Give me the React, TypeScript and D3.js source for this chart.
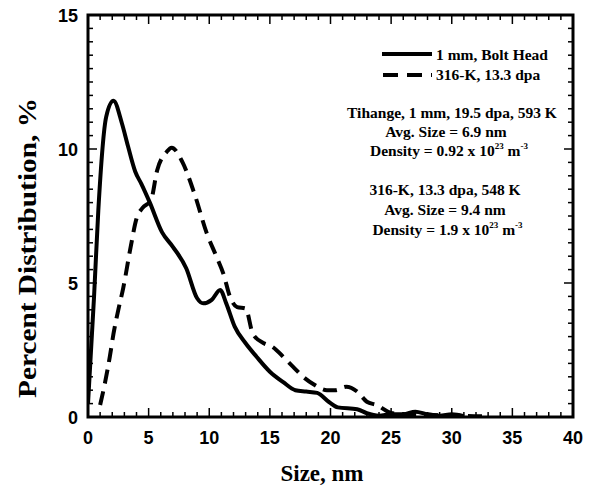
import React from "react";
import * as d3 from "d3";

const boltX = [0, 0.5, 0.85, 1.5, 2.1, 2.8, 3.3, 3.9, 4.4, 5.1, 6.1, 7.0, 8.1, 9.0, 9.5, 10.2, 10.9, 11.4, 12.1, 13.0, 13.9, 15.0, 16.1, 17.1, 18.0, 18.9, 19.9, 20.6, 22.2, 23.0, 24, 25, 26, 27, 28, 29, 30, 31];
const boltY = [0.5, 4.5, 7.7, 11.2, 11.8, 10.95, 10.1, 9.15, 8.7, 8.0, 6.9, 6.35, 5.55, 4.43, 4.24, 4.37, 4.74, 4.24, 3.37, 2.75, 2.25, 1.69, 1.3, 1.0, 0.95, 0.9, 0.55, 0.36, 0.29, 0.14, 0.05, 0.1, 0.1, 0.2, 0.1, 0.05, 0.1, 0.03];

const k316X = [1.0, 1.4, 1.8, 2.1, 2.5, 2.9, 3.5, 4.0, 4.5, 5.2, 5.7, 6.5, 6.9, 7.8, 8.8, 9.8, 10.6, 11.2, 11.7, 12.3, 13.0, 13.6, 14.5, 15.2, 16.2, 16.9, 17.9, 18.6, 19.7, 20.4, 21.3, 22.2, 23.0, 23.8, 25, 26, 28, 30, 32, 33];
const k316Y = [0.45, 1.27, 2.25, 3.1, 4.0, 4.8, 6.3, 7.4, 7.8, 8.1, 9.2, 9.9, 10.05, 9.5, 8.3, 6.85, 5.98, 5.3, 4.5, 4.1, 4.05, 3.1, 2.75, 2.62, 2.2, 1.88, 1.44, 1.22, 1.0, 1.0, 1.13, 0.95, 0.57, 0.45, 0.15, 0.1, 0.08, 0.05, 0.03, 0.02];

const xTicks = [0, 5, 10, 15, 20, 25, 30, 35, 40];
const yTicks = [0, 5, 10, 15];
const legendLabels = ["1 mm, Bolt Head", "316-K, 13.3 dpa"];

const W = 592, H = 486;
const L = 88, R = 573, T = 15, B = 417;

export default function App() {
  const x = d3.scaleLinear().domain([0, 40]).range([L, R]);
  const y = d3.scaleLinear().domain([0, 15]).range([B, T]);
  const line = d3.line<[number, number]>().x(d => x(d[0])).y(d => y(d[1])).curve(d3.curveMonotoneX);
  const bolt = boltX.map((v, i) => [v, boltY[i]] as [number, number]);
  const k316 = k316X.map((v, i) => [v, k316Y[i]] as [number, number]);
  const xMinor = d3.range(0, 41, 1);
  const yMinor = d3.range(0, 15.01, 0.5);
  const serif = "'Liberation Serif', 'Times New Roman', serif";
  const sans = "'Liberation Sans', Arial, sans-serif";
  return (
    <svg width={W} height={H} style={{ position: "absolute", left: 0, top: 0, background: "#fff" }}>
      <defs>
        <clipPath id="clip"><rect x={L} y={T - 2} width={R - L} height={B - T + 2} /></clipPath>
      </defs>
      <g stroke="#000" strokeWidth={1.5}>
        {xMinor.map(v => {
          const len = v % 5 === 0 ? 9 : 5;
          return (
            <g key={"xt" + v}>
              <line x1={x(v)} x2={x(v)} y1={B} y2={B - len} />
              <line x1={x(v)} x2={x(v)} y1={T} y2={T + len} />
            </g>
          );
        })}
        {yMinor.map(v => {
          const len = v % 5 === 0 ? 9 : 5;
          return (
            <g key={"yt" + v}>
              <line x1={L} x2={L + len} y1={y(v)} y2={y(v)} />
              <line x1={R} x2={R - len} y1={y(v)} y2={y(v)} />
            </g>
          );
        })}
      </g>
      <rect x={L} y={T} width={R - L} height={B - T} fill="none" stroke="#000" strokeWidth={3} />
      <g clipPath="url(#clip)" fill="none" stroke="#000" strokeWidth={4} strokeLinejoin="round">
        <path d={line(bolt) || ""} />
        <path d={line(k316) || ""} strokeDasharray="14,8" />
      </g>
      <g fontFamily={sans} fontWeight="bold" fontSize={18} fill="#000">
        {xTicks.map(v => (
          <text key={"xl" + v} x={x(v)} y={444} textAnchor="middle">{v}</text>
        ))}
        {yTicks.map(v => (
          <text key={"yl" + v} x={78} y={y(v) + 6.5} textAnchor="end">{v}</text>
        ))}
      </g>
      <text x={322} y={481} textAnchor="middle" fontFamily={serif} fontWeight="bold" fontSize={23}>Size, nm</text>
      <text transform={`translate(36,${248}) rotate(-90)`} textAnchor="middle" fontFamily={serif} fontWeight="bold" fontSize={26} textLength={300} lengthAdjust="spacingAndGlyphs">Percent Distribution, %</text>
      <g fontFamily={serif} fontWeight="bold" fontSize={15.5} fill="#000">
        <line x1={382} x2={432} y1={54} y2={54} stroke="#000" strokeWidth={4} />
        <text x={436} y={59.5}>{legendLabels[0]}</text>
        <line x1={383} x2={432} y1={75} y2={75} stroke="#000" strokeWidth={4} strokeDasharray="15,9" />
        <text x={436} y={80}>{legendLabels[1]}</text>
        <text x={452} y={118} textAnchor="middle">Tihange, 1 mm, 19.5 dpa, 593 K</text>
        <text x={446} y={137} textAnchor="middle">Avg. Size = 6.9 nm</text>
        <text x={449} y={156} textAnchor="middle">Density = 0.92 x 10<tspan fontSize={9} dy={-7}>23</tspan><tspan dy={7}> m</tspan><tspan fontSize={9} dy={-7}>-3</tspan></text>
        <text x={445} y={195} textAnchor="middle">316-K, 13.3 dpa, 548 K</text>
        <text x={445} y={215} textAnchor="middle">Avg. Size = 9.4 nm</text>
        <text x={447.5} y={235} textAnchor="middle">Density = 1.9 x 10<tspan fontSize={9} dy={-7}>23</tspan><tspan dy={7}> m</tspan><tspan fontSize={9} dy={-7}>-3</tspan></text>
      </g>
    </svg>
  );
}
